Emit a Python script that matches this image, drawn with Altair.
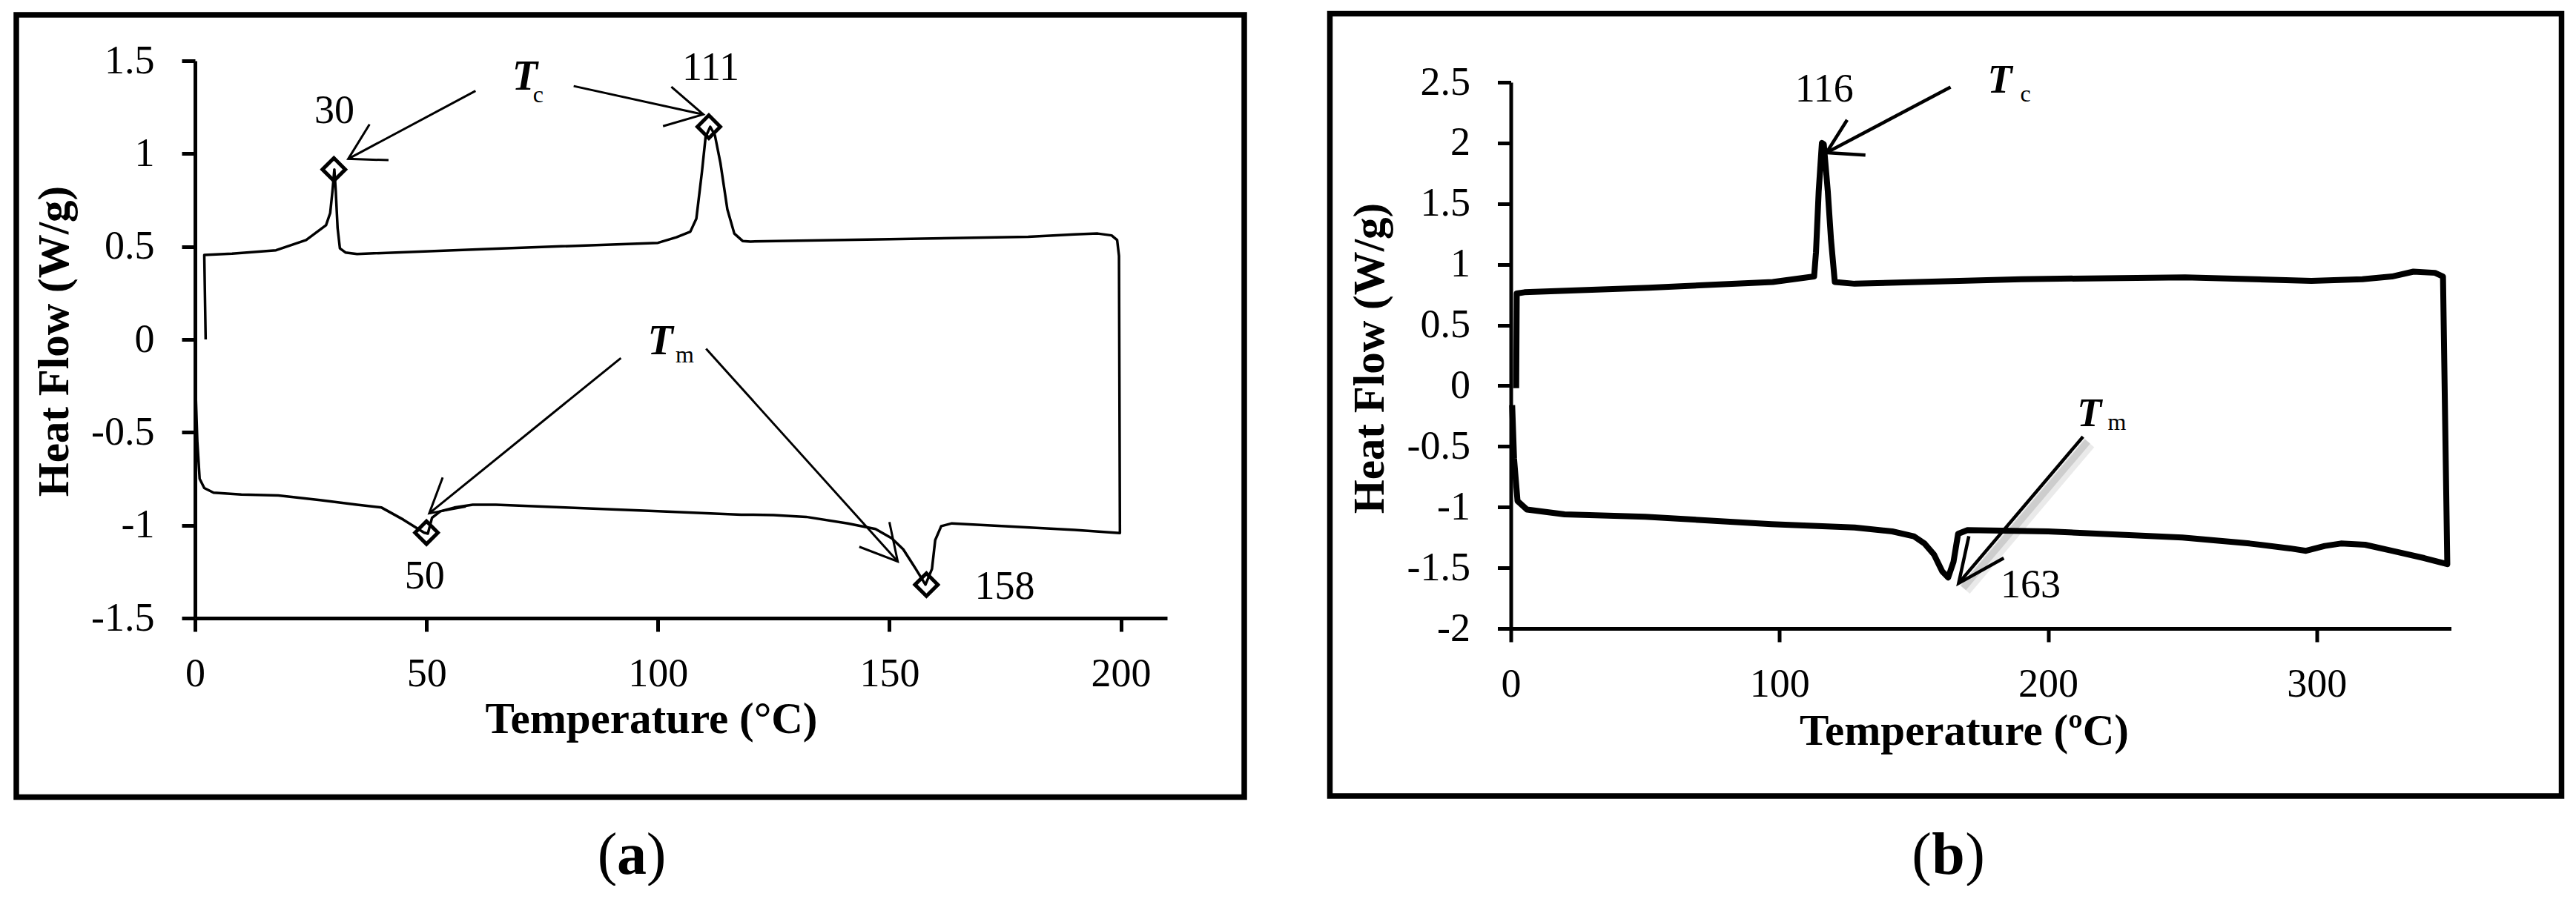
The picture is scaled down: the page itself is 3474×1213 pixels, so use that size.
import altair as alt
import pandas as pd

FONT = "Liberation Serif"

# ---------------- Panel (a) data ----------------
# heating run (lower trace), left to right
a_heat_T = [0.1, 0.5, 1.0, 2.0, 4, 10, 18, 27, 35, 40.3, 45, 49.5, 50.3, 51.2, 53, 56, 60, 65, 80, 100,
            118, 125, 132, 141, 147, 150.5, 153, 155.7, 157.8, 159.2, 159.9, 161.2, 163.5, 175, 190, 199.8]
a_heat_v = [-0.25, -0.55, -0.75, -0.80, -0.825, -0.835, -0.84, -0.865, -0.89, -0.905, -0.97, -1.04, -1.045,
            -0.96, -0.925, -0.905, -0.89, -0.89, -0.905, -0.925, -0.943, -0.945, -0.955, -0.99, -1.02, -1.07,
            -1.13, -1.235, -1.32, -1.235, -1.08, -1.005, -0.99, -1.005, -1.025, -1.042]
# cooling run (upper trace), right to left
a_cool_T = [199.6, 199.2, 198, 195, 190, 180, 150, 120, 118.3, 116.5, 115, 113.5, 112.3, 111.3, 110.3, 109.5,
            108.3, 107, 104, 100, 63, 35, 32.5, 31.3, 30.8, 30.4, 30.1, 29.7, 29.2, 28.3, 24, 17.5, 8, 2.0, 2.3]
a_cool_v = [0.45, 0.535, 0.56, 0.57, 0.565, 0.553, 0.54, 0.527, 0.53, 0.57, 0.70, 0.95, 1.10, 1.145, 1.09, 0.90,
            0.65, 0.58, 0.55, 0.52, 0.487, 0.46, 0.468, 0.49, 0.60, 0.80, 0.915, 0.80, 0.68, 0.615, 0.535, 0.48,
            0.462, 0.455, 0.0]
a_peak_T = [30, 111, 50, 158]
a_peak_v = [0.915, 1.145, -1.04, -1.32]
a_num_text = ["30", "111", "50", "158"]
a_num_T = [30.1, 111.4, 49.6, 174.9]
a_num_v = [1.165, 1.396, -1.34, -1.396]
a_sym_T = [68.5, 97.8]
a_sym_v = [1.344, -0.080]
a_sub_text = ["c", "m"]
a_sub_T = [73.0, 103.8]
a_sub_v = [1.277, -0.124]
a_arrow_start_T = [60.6, 81.8, 92.0, 110.4]
a_arrow_start_v = [1.338, 1.364, -0.10, -0.05]
a_arrow_tip_T = [33.1, 109.8, 50.6, 151.8]
a_arrow_tip_v = [0.972, 1.211, -0.936, -1.195]
a_wing1_T = [37.7, 102.9, 53.5, 150.0]
a_wing1_v = [1.158, 1.36, -0.743, -0.983]
a_wing2_T = [41.8, 101.1, 58.5, 143.5]
a_wing2_v = [0.965, 1.148, -0.90, -1.116]

# ---------------- Panel (b) data ----------------
b_heat_T = [0.5, 1.2, 2.5, 6, 20, 50, 97, 128, 142, 150, 154, 157.5, 160.6, 162.8, 164.8, 166.5, 170, 200,
            250, 275, 290, 296, 303, 309, 318, 328, 340, 348.6]
b_heat_v = [-0.16, -0.6, -0.95, -1.02, -1.06, -1.08, -1.14, -1.168, -1.20, -1.24, -1.30, -1.39, -1.53, -1.58,
            -1.45, -1.22, -1.19, -1.20, -1.25, -1.30, -1.34, -1.36, -1.32, -1.30, -1.31, -1.36, -1.42, -1.47]
b_cool_T = [347.0, 344, 336, 328, 317, 298, 251, 190, 128, 120.6, 119.2, 118.0, 116.5, 115.8, 114.6, 113.6,
            112.9, 97.5, 51.3, 5.1, 2.2, 2.0]
b_cool_v = [0.90, 0.93, 0.94, 0.90, 0.878, 0.864, 0.893, 0.878, 0.84, 0.855, 1.2, 1.6, 1.99, 2.0, 1.6, 1.1,
            0.90, 0.855, 0.807, 0.77, 0.76, -0.02]
b_num_text = ["116", "163"]
b_num_T = [116.7, 193.5]
b_num_v = [2.343, -1.744]
b_sym_T = [177.5, 210.8]
b_sym_v = [2.415, -0.335]
b_sub_text = ["c", "m"]
b_sub_T = [189.6, 222.2]
b_sub_v = [2.343, -0.366]
b_arrow_start_T = [163.7, 213.0]
b_arrow_start_v = [2.46, -0.42]
b_arrow_tip_T = [117.5, 166.7]
b_arrow_tip_v = [1.92, -1.627]
b_wing1_T = [125.2, 170.5]
b_wing1_v = [2.19, -1.24]
b_wing2_T = [132.0, 183.5]
b_wing2_v = [1.90, -1.42]


def curve_df(T1, v1, T2, v2):
    T = list(T1) + list(T2)
    v = list(v1) + list(v2)
    return pd.DataFrame({"T": T, "v": v, "i": list(range(len(T)))})


def arrows_df(sT, sv, tT, tv, w1T, w1v, w2T, w2v):
    rows = []
    for k in range(len(sT)):
        rows += [
            {"T": sT[k], "v": sv[k], "seg": f"s{k}", "i": 0},
            {"T": tT[k], "v": tv[k], "seg": f"s{k}", "i": 1},
            {"T": w1T[k], "v": w1v[k], "seg": f"h{k}", "i": 0},
            {"T": tT[k], "v": tv[k], "seg": f"h{k}", "i": 1},
            {"T": w2T[k], "v": w2v[k], "seg": f"h{k}", "i": 2},
        ]
    return pd.DataFrame(rows)


def build_panel(c):
    xs = alt.Scale(domain=c["xdom"], nice=False, zero=False)
    ys = alt.Scale(domain=c["ydom"], nice=False, zero=False, range=c["yrange"])
    xax = alt.Axis(
        values=c["xticks"], format="d", title=c["xtitle"], grid=False,
        titleFont=FONT, titleFontSize=59, titleFontWeight="bold", titleColor="black",
        titleX=c["xtitle_x"], titleY=c["xtitle_y"], titleBaseline="alphabetic", titleAlign="center",
        labelFont=FONT, labelFontSize=54, labelColor="black", labelPadding=30,
        labelFlush=False, labelOverlap=False,
        tickSize=18, tickWidth=5, tickColor="black", domainColor="black", domainWidth=5,
    )
    yax = alt.Axis(
        values=c["yticks"], title="Heat Flow (W/g)", grid=False,
        labelExpr="(datum.value < 0 ? '-' : '') + format(abs(datum.value), '.1~f')",
        titleFont=FONT, titleFontSize=59, titleFontWeight="bold", titleColor="black",
        titleAngle=270, titleX=-190, titleY=c["ytitle_y"], titleBaseline="middle", titleAlign="center",
        labelFont=FONT, labelFontSize=54, labelColor="black", labelPadding=37,
        labelFlush=False, labelOverlap=False,
        tickSize=18, tickWidth=5, tickColor="black", domainColor="black", domainWidth=5,
    )

    def X():
        return alt.X("T:Q", scale=xs, axis=xax)

    def Y():
        return alt.Y("v:Q", scale=ys, axis=yax)

    one = pd.DataFrame({"k": [0]})
    fx1, fx2, fy1, fy2 = c["frame"]
    frame = alt.Chart(one).mark_rect(fillOpacity=0, stroke="black", strokeWidth=7.5, clip=False).encode(
        x=alt.value(fx1), x2=alt.value(fx2), y=alt.value(fy1), y2=alt.value(fy2))

    layers = [frame]
    if c.get("shadow") is not None:
        for off, op, sw in [(9, 0.18, 16), (6, 0.3, 10)]:
            layers.append(alt.Chart(c["shadow"]).mark_line(color="#8c8c8c", opacity=op, strokeWidth=sw,
                                                           xOffset=off, yOffset=off).encode(
                x=X(), y=Y(), detail="seg:N", order="i:Q"))
    layers.append(alt.Chart(c["curve"]).mark_line(color="black", strokeWidth=c["lw"], strokeJoin="round").encode(
        x=X(), y=Y(), order="i:Q"))
    if c.get("peaks") is not None:
        layers.append(alt.Chart(c["peaks"]).mark_point(shape="diamond", filled=False, size=950,
                                                       strokeWidth=5, color="black", opacity=1).encode(
            x=X(), y=Y()))
    layers.append(alt.Chart(c["arrows"]).mark_line(color="black", strokeWidth=c["aw"]).encode(
        x=X(), y=Y(), detail="seg:N", order="i:Q"))
    layers.append(alt.Chart(c["nums"]).mark_text(font=FONT, fontSize=54, align="center",
                                                 baseline="alphabetic", color="black").encode(
        x=X(), y=Y(), text="txt:N"))
    layers.append(alt.Chart(c["syms"]).mark_text(font=FONT, fontSize=c["tsize"], fontStyle="italic",
                                                 fontWeight="bold", align="left", baseline="alphabetic",
                                                 color="black").encode(
        x=X(), y=Y(), text="txt:N"))
    layers.append(alt.Chart(c["subs"]).mark_text(font=FONT, fontSize=32, align="left",
                                                 baseline="alphabetic", color="black").encode(
        x=X(), y=Y(), text="txt:N"))
    cx, cy, letter, dp = c["caption"]
    layers.append(alt.Chart(one).mark_text(font=FONT, fontSize=80, align="center", baseline="alphabetic",
                                           color="black", clip=False, text="(", dx=-dp).encode(
        x=alt.value(cx), y=alt.value(cy)))
    layers.append(alt.Chart(one).mark_text(font=FONT, fontSize=80, fontWeight="bold", align="center",
                                           baseline="alphabetic", color="black", clip=False, text=letter).encode(
        x=alt.value(cx), y=alt.value(cy)))
    layers.append(alt.Chart(one).mark_text(font=FONT, fontSize=80, align="center", baseline="alphabetic",
                                           color="black", clip=False, text=")", dx=dp).encode(
        x=alt.value(cx), y=alt.value(cy)))
    return alt.layer(*layers).properties(width=c["W"], height=c["H"])


panel_a = build_panel({
    "xdom": [0, 210], "ydom": [-1.5, 1.5], "yrange": [752, 0],
    "xticks": [0, 50, 100, 150, 200], "yticks": [-1.5, -1, -0.5, 0, 0.5, 1, 1.5],
    "xtitle": "Temperature (°C)", "xtitle_x": 615, "xtitle_y": 154, "ytitle_y": 378,
    "W": 1311, "H": 752,
    "frame": (-241, 1415, -62, 993.5),
    "curve": curve_df(a_heat_T, a_heat_v, a_cool_T, a_cool_v), "lw": 3.5,
    "peaks": pd.DataFrame({"T": a_peak_T, "v": a_peak_v}),
    "arrows": arrows_df(a_arrow_start_T, a_arrow_start_v, a_arrow_tip_T, a_arrow_tip_v,
                        a_wing1_T, a_wing1_v, a_wing2_T, a_wing2_v), "aw": 3,
    "nums": pd.DataFrame({"T": a_num_T, "v": a_num_v, "txt": a_num_text}),
    "syms": pd.DataFrame({"T": a_sym_T, "v": a_sym_v, "txt": ["T", "T"]}), "tsize": 56,
    "subs": pd.DataFrame({"T": a_sub_T, "v": a_sub_v, "txt": a_sub_text}),
    "caption": (589, 1097, "a", 33),
})

b_arrows = arrows_df(b_arrow_start_T, b_arrow_start_v, b_arrow_tip_T, b_arrow_tip_v,
                     b_wing1_T, b_wing1_v, b_wing2_T, b_wing2_v)
# panel (b) shares the row origin of panel (a); its plot starts 29 px lower
panel_b = build_panel({
    "xdom": [0, 350], "ydom": [-2, 2.5], "yrange": [766, 29],
    "xticks": [0, 100, 200, 300], "yticks": [-2, -1.5, -1, -0.5, 0, 0.5, 1, 1.5, 2, 2.5],
    "xtitle": "Temperature (ºC)", "xtitle_x": 611, "xtitle_y": 156, "ytitle_y": 401,
    "W": 1268, "H": 766,
    "frame": (-244, 1417, -63.5, 992),
    "curve": curve_df(b_heat_T, b_heat_v, b_cool_T, b_cool_v), "lw": 8,
    "shadow": b_arrows[b_arrows["seg"].isin(["s1"])],
    "arrows": b_arrows, "aw": 4.5,
    "nums": pd.DataFrame({"T": b_num_T, "v": b_num_v, "txt": b_num_text}),
    "syms": pd.DataFrame({"T": b_sym_T, "v": b_sym_v, "txt": ["T", "T"]}), "tsize": 54,
    "subs": pd.DataFrame({"T": b_sub_T, "v": b_sub_v, "txt": b_sub_text}),
    "caption": (590, 1097, "b", 36),
})

chart = alt.hconcat(panel_a, panel_b, spacing=107.5).properties(
    padding={"left": 10, "top": 6, "right": 5, "bottom": 0},
    background="white",
).configure_view(strokeWidth=0)

chart.save("out.html", embed_options={"renderer": "svg", "actions": False})
